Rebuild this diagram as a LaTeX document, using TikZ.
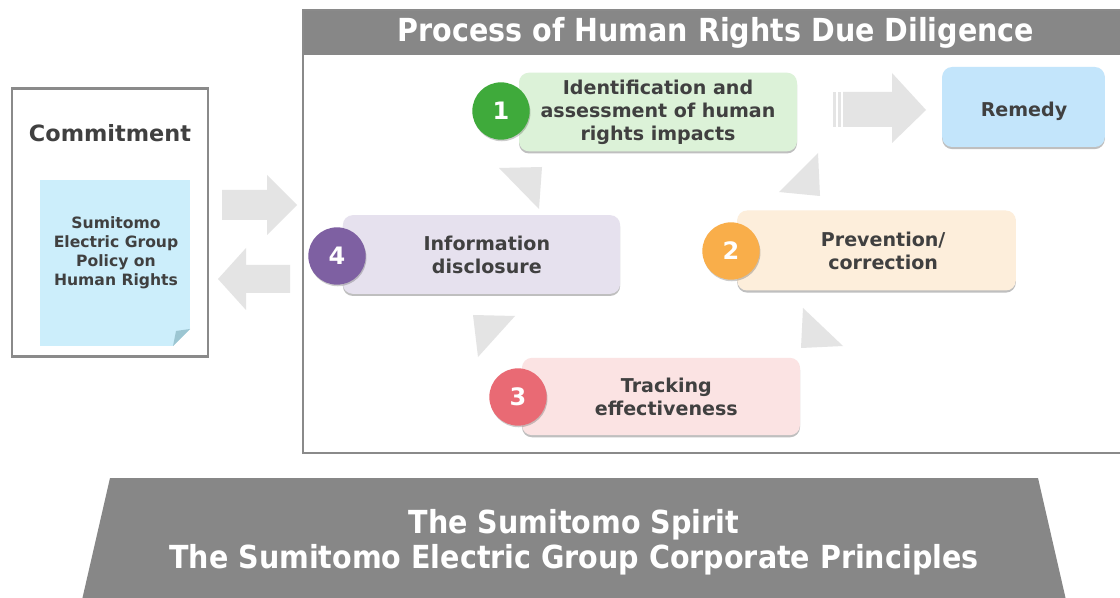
\documentclass[tikz,border=0pt]{standalone}
\usepackage{fontspec}
\setmainfont{DejaVu Sans}
\newfontfamily\condfont{DejaVu Sans Condensed}
\usetikzlibrary{shadows}
\definecolor{txt}{HTML}{404040}
\definecolor{bargray}{HTML}{878787}
\definecolor{framegray}{HTML}{8A8A8A}
\definecolor{arrgray}{HTML}{E4E4E4}
\definecolor{paperblue}{HTML}{CCEEFB}
\definecolor{paperfold}{HTML}{9CC6D2}
\definecolor{gfill}{HTML}{DCF2D8}\definecolor{gcirc}{HTML}{3FAA3B}
\definecolor{ofill}{HTML}{FDEEDB}\definecolor{ocirc}{HTML}{F9AE4A}
\definecolor{rfill}{HTML}{FBE3E3}\definecolor{rcirc}{HTML}{E96A74}
\definecolor{pfill}{HTML}{E6E1EE}\definecolor{pcirc}{HTML}{7E60A2}
\definecolor{bfill}{HTML}{C3E5FB}
\tikzset{
  stepbox/.style={rounded corners=7.5pt, inner sep=0pt, align=center, text=txt,
    font=\bfseries\fontsize{14.3}{17.3}\selectfont,
    drop shadow={shadow xshift=0pt, shadow yshift=-1.6pt, opacity=0.25, fill=black}},
  numcirc/.style={circle, minimum size=43pt, inner sep=0pt, text=white,
    font=\bfseries\fontsize{18}{18}\selectfont,
    drop shadow={shadow xshift=0.6pt, shadow yshift=-1.2pt, opacity=0.2, fill=black}},
  graytri/.style={fill=arrgray, draw=none},
  whitetitle/.style={text=white, font=\condfont\bfseries\fontsize{23.8}{26}\selectfont, align=center}
}
\begin{document}
\begin{tikzpicture}[x=0.75pt, y=-0.75pt]
\useasboundingbox (0,0) rectangle (1120,598);
\fill[white] (0,0) rectangle (1120,598);

% Commitment
\node[draw=framegray, line width=1.6pt, minimum width=147pt, minimum height=201pt, inner sep=0pt] (commit) at (110,222.5) {};
\node[text=txt, font=\bfseries\fontsize{16.8}{18}\selectfont] (committitle) at (110,133) {Commitment};
\node[fill=paperblue, minimum width=112.5pt, minimum height=124.5pt, inner sep=0pt] (paper) at (115,263) {};
\fill[white] (173,346) -- (190,329) -- (190,346) -- cycle;
\fill[paperfold] (173,346) -- (190,329) -- (176,331) -- cycle;
\node[text=txt, align=center, font=\bfseries\fontsize{11.7}{14.3}\selectfont] (policy) at (116,253) {Sumitomo\\Electric Group\\Policy on\\Human Rights};

% Block arrows between commitment and process
\fill[arrgray] (222,190) -- (267,190) -- (267,175) -- (297,205) -- (267,235) -- (267,220) -- (222,220) -- cycle;
\fill[arrgray] (290,265) -- (246,265) -- (246,248) -- (218,279) -- (246,310) -- (246,293) -- (290,293) -- cycle;

% Process frame
\fill[bargray] (303,10) rectangle (1125,55);
\draw[framegray, line width=1.5pt] (303,10) rectangle (1125,453);
\node[whitetitle] (ptitle) at (716,33) {Process of Human Rights Due Diligence};

% Steps
\node[stepbox, fill=gfill, minimum width=208.5pt, minimum height=59pt] (s1) at (658,112) {Identification and\\assessment of human\\rights impacts};
\node[numcirc, fill=gcirc] (c1) at (501,111) {1};

\node[stepbox, fill=bfill, minimum width=122pt, minimum height=60pt] (rem) at (1023.5,107) {};
\node[text=txt, font=\bfseries\fontsize{14.3}{17.3}\selectfont] (remtxt) at (1024,111) {Remedy};

\node[stepbox, fill=ofill, minimum width=209pt, minimum height=60pt] (s2) at (876.5,250.5) {\hspace*{10pt}Prevention/\\\hspace*{10pt}correction};
\node[numcirc, fill=ocirc] (c2) at (731,251) {2};

\node[stepbox, fill=pfill, minimum width=208pt, minimum height=59pt] (s4) at (481.5,254.5) {\hspace*{8pt}Information\\\hspace*{8pt}disclosure};
\node[numcirc, fill=pcirc] (c4) at (337,256) {4};

\node[stepbox, fill=rfill, minimum width=208.5pt, minimum height=58pt] (s3) at (661,396.5) {\hspace*{8pt}Tracking\\\hspace*{8pt}effectiveness};
\node[numcirc, fill=rcirc] (c3) at (518,397) {3};

% striped arrow to remedy
\fill[arrgray] (833,92) rectangle (836,127);
\fill[arrgray] (838,92) rectangle (841,127);
\fill[arrgray] (843,92) -- (892,92) -- (892,73) -- (926,110) -- (892,143) -- (892,127) -- (843,127) -- cycle;

% cycle triangles
\fill[graytri] (499,168) -- (542,167) -- (539,209) -- cycle;
\fill[graytri] (779,192) -- (818,153) -- (820,196) -- cycle;
\fill[graytri] (803,308) -- (843,346) -- (801,348) -- cycle;
\fill[graytri] (473,315) -- (515,316) -- (478,357) -- cycle;

% base trapezoid
\fill[bargray] (110,478) -- (1038,478) -- (1066,600) -- (82,600) -- cycle;
\node[whitetitle] (base) at (574,542) {The Sumitomo Spirit\\The Sumitomo Electric Group Corporate Principles};
\end{tikzpicture}
\end{document}
